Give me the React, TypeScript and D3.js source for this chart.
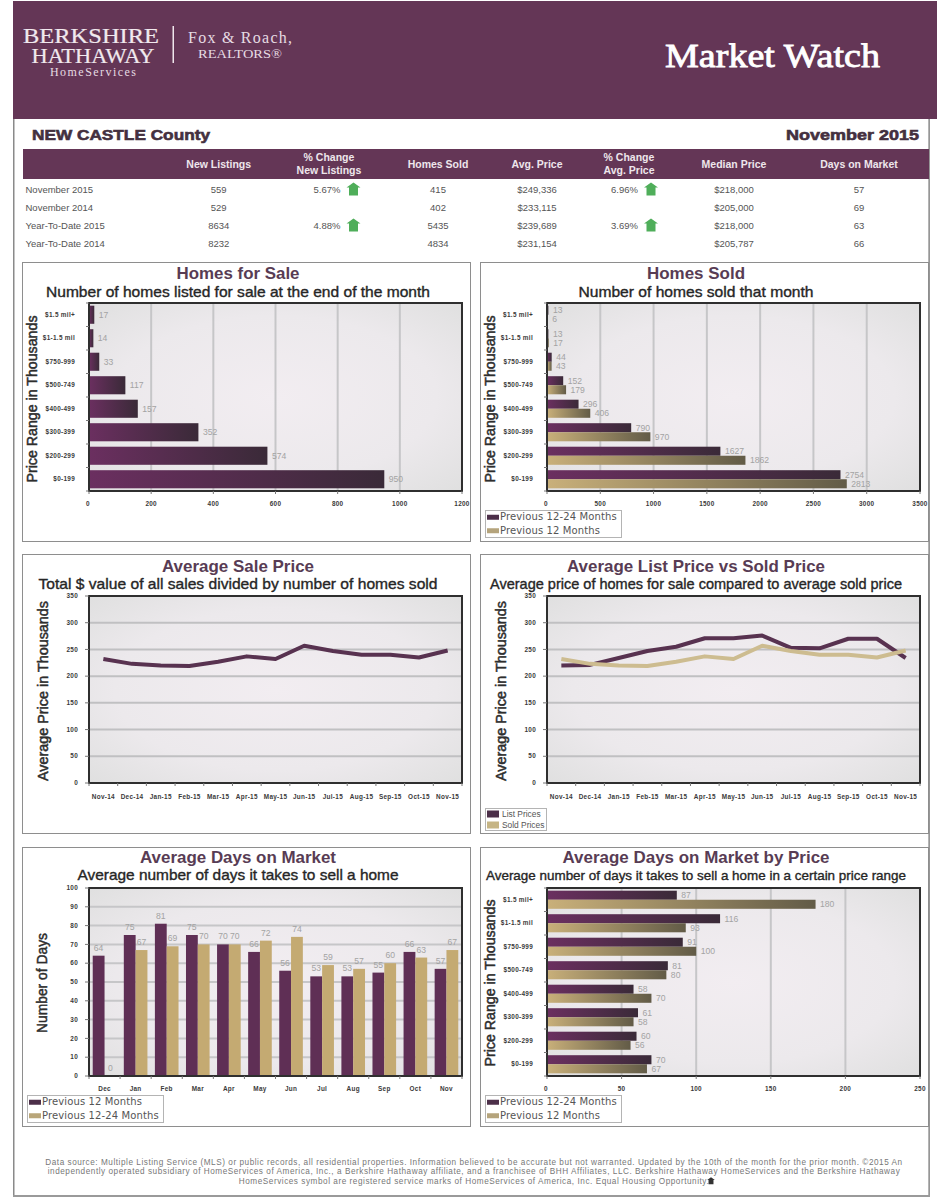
import React from "react";
import * as d3 from "d3";

const priceRanges = ["$1.5 mil+", "$1-1.5 mil", "$750-999", "$500-749", "$400-499", "$300-399", "$200-299", "$0-199"];
const homesForSale = [17, 14, 33, 117, 157, 352, 574, 950];
const soldPrev24 = [13, 13, 44, 152, 296, 790, 1627, 2754];
const soldPrev12 = [6, 17, 43, 179, 406, 970, 1862, 2813];
const months13 = ["Nov-14", "Dec-14", "Jan-15", "Feb-15", "Mar-15", "Apr-15", "May-15", "Jun-15", "Jul-15", "Aug-15", "Sep-15", "Oct-15", "Nov-15 "];
const salePrices = [232, 223, 220, 219, 227, 237, 232, 257, 247, 240, 240, 235, 248];
const listPrices = [220, 221, 234, 247, 255, 271, 271, 276, 253, 252, 270, 270, 234];
const months12 = ["Dec", "Jan", "Feb", "Mar", "Apr", "May", "Jun", "Jul", "Aug", "Sep", "Oct", "Nov"];
const domPrev12 = [64, 75, 81, 75, 70, 66, 56, 53, 53, 55, 66, 57];
const domPrev24 = [0, 67, 69, 70, 70, 72, 74, 59, 57, 60, 63, 67];
const domPricePrev24 = [87, 116, 91, 81, 58, 61, 60, 70];
const domPricePrev12 = [180, 93, 100, 80, 70, 58, 56, 67];

const tableHeaders = [["New Listings"], ["% Change", "New Listings"], ["Homes Sold"], ["Avg. Price"], ["% Change", "Avg. Price"], ["Median Price"], ["Days on Market"]];
const rowLabels = ["November 2015", "November 2014", "Year-To-Date 2015", "Year-To-Date 2014"];
const tableRows = [
  ["559", "5.67%", "415", "$249,336", "6.96%", "$218,000", "57"],
  ["529", "", "402", "$233,115", "", "$205,000", "69"],
  ["8634", "4.88%", "5435", "$239,689", "3.69%", "$218,000", "63"],
  ["8232", "", "4834", "$231,154", "", "$205,787", "66"],
];
const footerLines = [
  "Data source: Multiple Listing Service (MLS) or public records, all residential properties. Information believed to be accurate but not warranted. Updated by the 10th of the month for the prior month. ©2015 An",
  "independently operated subsidiary of HomeServices of America, Inc., a Berkshire Hathaway affiliate, and a franchisee of BHH Affiliates, LLC. Berkshire Hathaway HomeServices and the Berkshire Hathaway",
  "HomeServices symbol are registered service marks of HomeServices of America, Inc. Equal Housing Opportunity.",
];

const PURPLE = "#643656";
const SANS = "'Liberation Sans', Arial, sans-serif";
const SERIF = "'Liberation Serif', serif";
const DEJA = "'DejaVu Sans', sans-serif";
const colX = [218.7, 329, 438, 537, 629, 734, 859];

const House = ({ x, y, s = 1, fill = "#4fae5a" }: any) => (
  <path transform={`translate(${x},${y}) scale(${s})`} fill={fill}
    d="M0,-7 L7,-2 L4.5,-2 L4.5,6 L-4.5,6 L-4.5,-2 L-7,-2 Z" />
);

const Panel = ({ x, y, h = 279, title, tw, sub, sw, titleY, subY, children, w = 448, subSize = 14.5 }: any) => {
  const cx = x + 216;
  return (
    <g>
      <rect x={x + 0.5} y={y + 0.5} width={w} height={h} fill="#fff" stroke="#8e8e8e" strokeWidth={1} />
      <text x={cx} y={titleY} textAnchor="middle" fontFamily={SANS} fontWeight="bold" fontSize={17} fill="#583c54"
        textLength={tw} lengthAdjust="spacingAndGlyphs">{title}</text>
      <text x={cx} y={subY} textAnchor="middle" fontFamily={SANS} fontSize={subSize} fill="#262626" stroke="#262626" strokeWidth={0.35}
        textLength={sw} lengthAdjust="spacingAndGlyphs">{sub}</text>
      {children}
    </g>
  );
};

const PlotFrame = ({ x, y, w, h, children }: any) => (
  <g>
    <rect x={x} y={y} width={w} height={h} fill="url(#plotBg)" />
    {children}
    <rect x={x} y={y} width={w} height={h} fill="none" stroke="#2f2f2f" strokeWidth={2} />
  </g>
);

const YTitle = ({ x, y, len, children }: any) => (
  <text transform={`translate(${x},${y}) rotate(-90)`} textAnchor="middle" fontFamily={SANS}
    fontSize={14.5} fill="#2e2e2e" stroke="#2e2e2e" strokeWidth={0.5} textLength={len} lengthAdjust="spacingAndGlyphs">{children}</text>
);

const Tick = ({ x, y, anchor = "middle", children }: any) => (
  <text x={x} y={y} textAnchor={anchor} fontFamily={SANS} fontWeight="bold" fontSize={6.4} fill="#3a3a3a" letterSpacing={0.3}>{children}</text>
);

const Legend = ({ x, y, w, h, items, small }: any) => (
  <g>
    <rect x={x + 0.5} y={y + 0.5} width={w} height={h} fill="#fff" stroke="#b4b4b4" />
    {items.map((it: any, i: number) => {
      const rowH = h / items.length;
      const cy = y + rowH * (i + 0.5) + 0.5;
      return (
        <g key={i}>
          <rect x={x + 2} y={cy - (small ? 3.5 : 2.5)} width={12} height={small ? 7 : 5} fill={it.color} />
          <text x={x + (small ? 17 : 15)} y={cy + 3} fontFamily={small ? SANS : DEJA} fontSize={small ? 8.4 : 10} fill="#555"
            letterSpacing={small ? 0 : 0.12}>{it.label}</text>
        </g>
      );
    })}
  </g>
);

const HBars = ({ x, y, w, h, max, step, series }: any) => {
  const sx = d3.scaleLinear().domain([0, max]).range([x, x + w]);
  const band = d3.scaleBand().domain(priceRanges).range([y, y + h]).paddingInner(0.23).paddingOuter(0.115);
  const step8 = band.step();
  const barH = band.bandwidth() / series.length;
  return (
    <g>
      <PlotFrame x={x} y={y} w={w} h={h}>
        {d3.range(step, max, step).map((t) => (
          <line key={t} x1={sx(t)} x2={sx(t)} y1={y} y2={y + h} stroke="#c6c6c8" strokeWidth={2} />
        ))}
        {series.map((s: any, si: number) => priceRanges.map((c, i) => (
          <rect key={c + si} x={x} y={band(c)! + si * barH} width={sx(s.values[i]) - x} height={barH} fill={`url(#${s.grad})`} />
        )))}
      </PlotFrame>
      {series.map((s: any, si: number) => priceRanges.map((c, i) => (
        <text key={c + si} x={sx(s.values[i]) + 4.5} y={band(c)! + si * barH + barH / 2 + 3} fontFamily={SANS} fontSize={8.6} fill="#a3a3a3">{s.values[i]}</text>
      )))}
      {d3.range(0, priceRanges.length + 1).map((i) => (
        <line key={i} x1={x - 3} x2={x} y1={y + i * step8} y2={y + i * step8} stroke="#777" />
      ))}
      {priceRanges.map((c) => (
        <Tick key={c} x={x - 14} y={band(c)! + band.bandwidth() / 2 + 2.2} anchor="end">{c}</Tick>
      ))}
      {d3.range(0, max + 1, step).map((t) => (
        <g key={t}>
          <line x1={sx(t)} x2={sx(t)} y1={y + h} y2={y + h + 3} stroke="#777" />
          <Tick x={sx(t) - (t === 0 ? 1 : 0)} y={y + h + 15}>{t}</Tick>
        </g>
      ))}
    </g>
  );
};

const LineChart = ({ x, y, w, h, series }: any) => {
  const sx = d3.scalePoint().domain(months13).range([x, x + w]).padding(0.5);
  const sy = d3.scaleLinear().domain([0, 350]).range([y + h, y]);
  const line = d3.line<number>().x((_, i) => sx(months13[i])!).y((d) => sy(d)).curve(d3.curveLinear);
  const st = sx.step();
  return (
    <g>
      <PlotFrame x={x} y={y} w={w} h={h}>
        {d3.range(50, 350, 50).map((t) => (
          <line key={t} x1={x} x2={x + w} y1={sy(t)} y2={sy(t)} stroke="#c0c0c2" strokeWidth={2} />
        ))}
        {series.map((s: any, i: number) => (
          <path key={i} d={line(s.values)!} fill="none" stroke={s.color} strokeWidth={4} strokeLinejoin="round" />
        ))}
      </PlotFrame>
      {d3.range(0, 351, 50).map((t) => (
        <g key={t}>
          <line x1={x - 4} x2={x} y1={sy(t)} y2={sy(t)} stroke="#777" />
          <Tick x={x - 11} y={sy(t) + 2.2} anchor="end">{t}</Tick>
        </g>
      ))}
      {d3.range(0, months13.length + 1).map((i) => (
        <line key={i} x1={x + i * st} x2={x + i * st} y1={y + h} y2={y + h + 3} stroke="#777" />
      ))}
      {months13.map((m) => (
        <Tick key={m} x={sx(m)!} y={y + h + 16}>{m.trim()}</Tick>
      ))}
    </g>
  );
};

const Columns = ({ x, y, w, h }: any) => {
  const sx = d3.scaleBand().domain(months12).range([x, x + w]).paddingInner(0.24).paddingOuter(0.12);
  const sy = d3.scaleLinear().domain([0, 100]).range([y + h, y]);
  const bw = sx.bandwidth() / 2;
  const ser = [{ v: domPrev12, c: "#5f2f55" }, { v: domPrev24, c: "#c4aa72" }];
  const st = sx.step();
  return (
    <g>
      <PlotFrame x={x} y={y} w={w} h={h}>
        {d3.range(10, 100, 10).map((t) => (
          <line key={t} x1={x} x2={x + w} y1={sy(t)} y2={sy(t)} stroke="#c6c6c8" strokeWidth={2} />
        ))}
        {ser.map((s, si) => months12.map((m, i) => (
          <rect key={m + si} x={sx(m)! + si * bw} y={sy(s.v[i])} width={bw} height={y + h - sy(s.v[i])} fill={s.c} />
        )))}
      </PlotFrame>
      {ser.map((s, si) => months12.map((m, i) => (
        <text key={m + si} x={sx(m)! + si * bw + bw / 2} y={sy(s.v[i]) - 5} textAnchor="middle" fontFamily={SANS} fontSize={8.6} fill="#a3a3a3">{s.v[i]}</text>
      )))}
      {d3.range(0, 101, 10).map((t) => (
        <g key={t}>
          <line x1={x - 4} x2={x} y1={sy(t)} y2={sy(t)} stroke="#777" />
          <Tick x={x - 11} y={sy(t) + 2.2} anchor="end">{t}</Tick>
        </g>
      ))}
      {d3.range(0, 13).map((i) => (
        <line key={i} x1={x + i * st} x2={x + i * st} y1={y + h} y2={y + h + 3} stroke="#777" />
      ))}
      {months12.map((m) => (
        <Tick key={m} x={sx(m)! + sx.bandwidth() / 2} y={y + h + 15}>{m}</Tick>
      ))}
    </g>
  );
};

const grad24 = "barPurple";
const grad12 = "barTan";
const legend2412 = [{ color: "#4c2f49", label: "Previous 12-24 Months" }, { color: "#b5a47c", label: "Previous 12 Months" }];
const legend1224 = [{ color: "#4c2f49", label: "Previous 12 Months" }, { color: "#b9a679", label: "Previous 12-24 Months" }];

export default function App() {
  return (
    <svg width={937} height={1200} style={{ position: "absolute", left: 0, top: 0, background: "#fff" }}>
      <defs>
        <linearGradient id="barPurple" x1="0" x2="1" y1="0" y2="0">
          <stop offset="0" stopColor="#6b2f60" /><stop offset="1" stopColor="#3a2a38" />
        </linearGradient>
        <linearGradient id="barTan" x1="0" x2="1" y1="0" y2="0">
          <stop offset="0" stopColor="#c9b07a" /><stop offset="1" stopColor="#625b47" />
        </linearGradient>
        <radialGradient id="plotBg" cx="0.5" cy="0.5" r="0.72">
          <stop offset="0" stopColor="#f2edf1" /><stop offset="0.6" stopColor="#ece9ec" /><stop offset="1" stopColor="#dfdfdf" />
        </radialGradient>
      </defs>

      {/* page frame */}
      <rect x={13} y={119} width={1.5} height={1077} fill="#8a8a8a" />
      <rect x={928.5} y={119} width={1.2} height={1077} fill="#6a6a6a" />
      <rect x={13} y={1195} width={917} height={2} fill="#9a9a9a" />

      {/* header */}
      <rect x={13} y={1} width={924} height={118} fill={PURPLE} />
      <text x={91} y={42.5} textAnchor="middle" fontFamily={SERIF} fontSize={20.5} fill="#f1e9ee" stroke="#f1e9ee" strokeWidth={0.2} textLength={136} lengthAdjust="spacingAndGlyphs">BERKSHIRE</text>
      <text x={93} y={62.5} textAnchor="middle" fontFamily={SERIF} fontSize={21} fill="#f1e9ee" stroke="#f1e9ee" strokeWidth={0.2} textLength={123} lengthAdjust="spacingAndGlyphs">HATHAWAY</text>
      <text x={93} y={75.5} textAnchor="middle" fontFamily={SERIF} fontSize={12} fill="#e6dbe3" textLength={86} lengthAdjust="spacing">HomeServices</text>
      <rect x={172.5} y={26} width={1.5} height={37} fill="#efe6ec" />
      <text x={188} y={43} fontFamily={SERIF} fontSize={16} fill="#e6dbe3" textLength={104} lengthAdjust="spacing">Fox &amp; Roach,</text>
      <text x={198} y={58} fontFamily={SERIF} fontSize={12} fill="#e6dbe3" textLength={84} lengthAdjust="spacingAndGlyphs">REALTORS®</text>
      <text x={665} y={67} fontFamily={SERIF} fontSize={33} fill="#ffffff" stroke="#ffffff" strokeWidth={0.8} textLength={215} lengthAdjust="spacingAndGlyphs">Market Watch</text>

      {/* table */}
      <text x={32} y={140} fontFamily={SANS} fontWeight="bold" fontSize={15} fill="#44303f" stroke="#44303f" strokeWidth={0.6} textLength={178} lengthAdjust="spacingAndGlyphs">NEW CASTLE County</text>
      <text x={919} y={140} textAnchor="end" fontFamily={SANS} fontWeight="bold" fontSize={15} fill="#44303f" stroke="#44303f" strokeWidth={0.6} textLength={133} lengthAdjust="spacingAndGlyphs">November 2015</text>
      <rect x={23} y={149} width={906} height={30} fill={PURPLE} />
      {tableHeaders.map((lines, i) => lines.map((l, j) => (
        <text key={l + i} x={colX[i]} y={lines.length === 1 ? 168 : 161 + j * 13} textAnchor="middle" fontFamily={SANS}
          fontWeight="bold" fontSize={10.5} fill="#eee6ec">{l}</text>
      )))}
      {rowLabels.map((l, r) => (
        <g key={l}>
          <text x={25.5} y={193 + r * 18} fontFamily={SANS} fontSize={9.5} fill="#555">{l}</text>
          {tableRows[r].map((v, c) => {
            const isPct = c === 1 || c === 4;
            if (isPct && !v) return null;
            return isPct ? (
              <g key={c}>
                <text x={c === 1 ? 340.5 : 638} y={193 + r * 18} textAnchor="end" fontFamily={SANS} fontSize={9.5} fill="#555">{v}</text>
                <House x={c === 1 ? 353.5 : 651} y={189.5 + r * 18} />
              </g>
            ) : (
              <text key={c} x={colX[c]} y={193 + r * 18} textAnchor="middle" fontFamily={SANS} fontSize={9.5} fill="#555">{v}</text>
            );
          })}
        </g>
      ))}

      {/* row 1 */}
      <Panel x={22} y={262} title="Homes for Sale" tw={123} sub="Number of homes listed for sale at the end of the month" sw={384} titleY={279} subY={297}>
        <YTitle x={37} y={399} len={167}>Price Range in Thousands</YTitle>
        <HBars x={89} y={303} w={373} h={188} max={1200} step={200} series={[{ values: homesForSale, grad: grad24 }]} />
      </Panel>
      <Panel x={480} y={262} title="Homes Sold" tw={98} sub="Number of homes sold that month" sw={235} titleY={279} subY={297}>
        <YTitle x={495} y={399} len={167}>Price Range in Thousands</YTitle>
        <HBars x={547} y={303} w={373} h={188} max={3500} step={500} series={[{ values: soldPrev24, grad: grad24 }, { values: soldPrev12, grad: grad12 }]} />
        <Legend x={485} y={510} w={136} h={27} items={legend2412} />
      </Panel>

      {/* row 2 */}
      <Panel x={22} y={554} title="Average Sale Price" tw={152} sub="Total $ value of all sales divided by number of homes sold" sw={399} titleY={572} subY={589}>
        <YTitle x={48} y={691} len={180}>Average Price in Thousands</YTitle>
        <LineChart x={89} y={596} w={373} h={187} series={[{ values: salePrices, color: "#583250" }]} />
      </Panel>
      <Panel x={480} y={554} title="Average List Price vs Sold Price" tw={258} sub="Average price of homes for sale compared to average sold price" sw={412} titleY={572} subY={589}>
        <YTitle x={506} y={691} len={180}>Average Price in Thousands</YTitle>
        <LineChart x={547} y={596} w={373} h={187} series={[{ values: listPrices, color: "#583250" }, { values: salePrices, color: "#cdbc90" }]} />
        <Legend x={485} y={808} w={61} h={22} small items={[{ color: "#4c2f49", label: "List Prices" }, { color: "#c6b585", label: "Sold Prices" }]} />
      </Panel>

      {/* row 3 */}
      <Panel x={22} y={847} title="Average Days on Market" tw={196} sub="Average number of days it takes to sell a home" sw={321} titleY={863} subY={880}>
        <YTitle x={47} y={983} len={100}>Number of Days</YTitle>
        <Columns x={89} y={888} w={373} h={188} />
        <Legend x={27} y={1095} w={136} h={27} items={legend1224} />
      </Panel>
      <Panel x={480} y={847} title="Average Days on Market by Price" tw={267} sub="Average number of days it takes to sell a home in a certain price range" sw={420} titleY={863} subY={880} subSize={13.4}>
        <YTitle x={495} y={983} len={167}>Price Range in Thousands</YTitle>
        <HBars x={547} y={888} w={373} h={188} max={250} step={50} series={[{ values: domPricePrev24, grad: grad24 }, { values: domPricePrev12, grad: grad12 }]} />
        <Legend x={485} y={1095} w={136} h={27} items={legend2412} />
      </Panel>

      {/* footer */}
      {footerLines.map((l, i) => (
        <text key={i} x={474} y={1165 + i * 9.3} textAnchor="middle" fontFamily={SANS} fontSize={8.2} fill="#777"
          letterSpacing={0.54}>{l}</text>
      ))}
      <House x={711} y={1181} s={0.55} fill="#333" />
    </svg>
  );
}
